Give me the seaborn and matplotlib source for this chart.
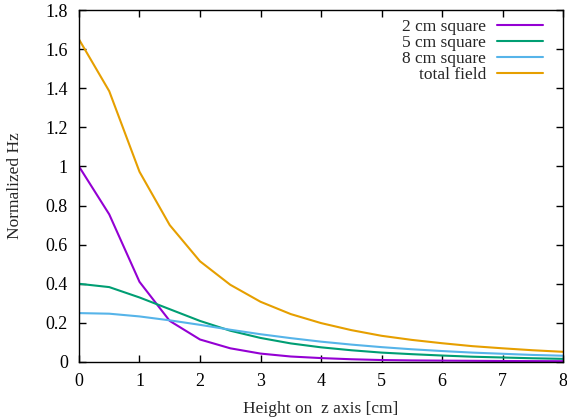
import numpy as np
import pandas as pd
import matplotlib
matplotlib.use("Agg")
import matplotlib.pyplot as plt
import seaborn as sns
from matplotlib.ticker import FormatStrFormatter, MultipleLocator

height = [0, 0.5, 1, 1.5, 2, 2.5, 3, 3.5, 4, 4.5, 5, 5.5, 6, 6.5, 7, 7.5, 8]
sq2 = [1.0, 0.755, 0.41, 0.21, 0.115, 0.07, 0.043, 0.028, 0.02, 0.014, 0.010, 0.008, 0.007, 0.006, 0.005, 0.0045, 0.004]
sq5 = [0.40, 0.383, 0.33, 0.27, 0.21, 0.16, 0.123, 0.095, 0.075, 0.06, 0.048, 0.04, 0.033, 0.027, 0.023, 0.019, 0.016]
sq8 = [0.25, 0.247, 0.233, 0.213, 0.19, 0.165, 0.142, 0.122, 0.104, 0.089, 0.076, 0.065, 0.056, 0.048, 0.042, 0.036, 0.032]
total = [1.65, 1.385, 0.973, 0.70, 0.515, 0.395, 0.308, 0.245, 0.199, 0.163, 0.134, 0.113, 0.096, 0.081, 0.070, 0.060, 0.052]
labels = ["2 cm square", "5 cm square", "8 cm square", "total field"]
colors = ["#9400d3", "#009e73", "#56b4e9", "#e69f00"]

rows = []
for lab, vals in zip(labels, [sq2, sq5, sq8, total]):
    for h, v in zip(height, vals):
        rows.append({"height": h, "value": v, "series": lab})
df = pd.DataFrame(rows)

sns.set_style("ticks")
plt.rcParams["font.family"] = ["Liberation Serif", "DejaVu Serif"]
plt.rcParams["font.size"] = 12.5

fig = plt.figure(figsize=(5.67, 4.18), dpi=100)
ax = fig.add_axes([0.1393, 0.134, 0.993 - 0.1393, 0.976 - 0.134])
sns.lineplot(data=df, x="height", y="value", hue="series", hue_order=labels,
             palette=dict(zip(labels, colors)), linewidth=1.5, ax=ax, legend=False)

ax.set_xlim(0, 8)
ax.set_ylim(0, 1.8)
ax.xaxis.set_major_locator(MultipleLocator(1))
ax.yaxis.set_major_locator(MultipleLocator(0.2))
ax.yaxis.set_major_formatter(FormatStrFormatter("%g"))
ax.xaxis.set_major_formatter(FormatStrFormatter("%g"))
ax.tick_params(direction="in", top=True, right=True, length=5, width=1, labelsize=13, colors="black")
ax.tick_params(axis="x", pad=8)
ax.tick_params(axis="y", pad=8)
for s in ax.spines.values():
    s.set_visible(True)
    s.set_linewidth(1)
    s.set_color("black")
ax.set_xlabel("Height on  z axis [cm]", fontsize=12.5, labelpad=8)
ax.set_ylabel("Normalized Hz", fontsize=12.5, labelpad=16)

handles = [plt.Line2D([], [], color=c, lw=1.5) for c in colors]
ax.legend(handles, labels, loc="upper right", markerfirst=False, frameon=False,
          fontsize=12.5, handlelength=2.65, handletextpad=0.6, labelspacing=0.0,
          borderaxespad=0.0, borderpad=0.0, bbox_to_anchor=(0.958, 0.975))

fig.savefig("out.png", dpi=100)
